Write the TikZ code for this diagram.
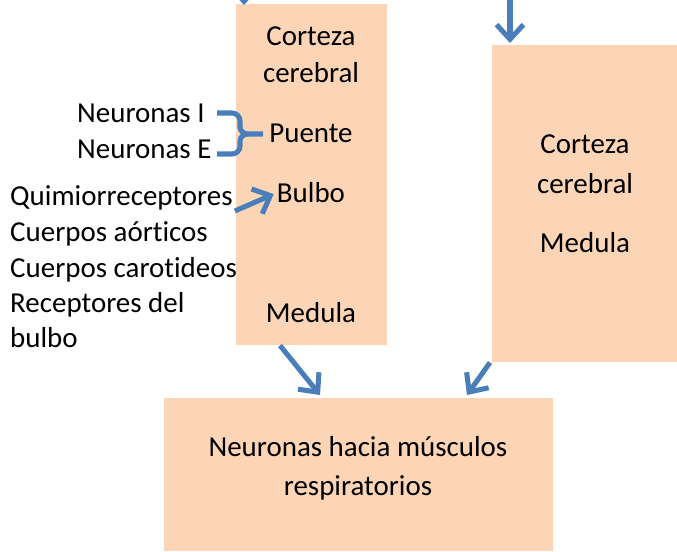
\documentclass[tikz,border=0pt]{standalone}
\usepackage{fontspec}
\setmainfont{Carlito}[Ligatures=NoCommon]
\usetikzlibrary{arrows.meta, calc}
\definecolor{boxpeach}{RGB}{251, 213, 181}
\definecolor{arrowblue}{RGB}{74, 126, 187}

\begin{document}
\begin{tikzpicture}[x=0.03cm, y=-0.03cm,
        every node/.style={font=\fontsize{24.7}{30}\selectfont, inner sep=0pt},
        area/.style={rectangle, fill=boxpeach, anchor=north west},
        txt/.style={anchor=base},
        lbl/.style={anchor=base west},
        arrow/.style={-{Straight Barb[length=12.5pt, width=23pt]}, line width=4.3pt, arrowblue}
    ]
        \useasboundingbox (0,0) rectangle (677,551);

        % boxes
        \node[area, minimum width=4.53cm, minimum height=10.23cm] (lbox) at (236,4) {};
        \node[area, minimum width=5.55cm, minimum height=9.51cm] (rbox) at (492,45) {};
        \node[area, minimum width=11.67cm, minimum height=4.59cm] (mbox) at (164,398) {};

        % left box
        \node[txt] (lcort) at (311,45) {Corteza};
        \node[txt] (lcere) at (311,82) {cerebral};
        \node[txt] (puente) at (311,142) {Puente};
        \node[txt] (bulbo) at (311,202) {Bulbo};
        \node[txt] (lmed) at (311,322) {Medula};

        % right box
        \node[txt] (rcort) at (585,153) {Corteza};
        \node[txt] (rcere) at (585,193) {cerebral};
        \node[txt] (rmed) at (585,252) {Medula};

        % bottom box
        \node[txt] (mus1) at (358,456) {Neuronas hacia músculos};
        \node[txt] (mus2) at (358,495) {respiratorios};

        % side labels
        \node[lbl] (neuI) at (77,122) {Neuronas I};
        \node[lbl] (neuE) at (77,158) {Neuronas E};
        \node[lbl] (q1) at (10,205) {Quimiorreceptores};
        \node[lbl] (q2) at (10,241) {Cuerpos aórticos};
        \node[lbl] (q3) at (10,277) {Cuerpos carotideos};
        \node[lbl] (q4) at (10,312) {Receptores del};
        \node[lbl] (q5) at (10,347) {bulbo};

        % brace
        \draw[line width=4.3pt, arrowblue] (217,113) -- (232,113) to[out=0, in=90] (240,121) -- (240,127)
            to[out=-90, in=180] (248,134) -- (263,134);
        \draw[line width=4.3pt, arrowblue] (248,134) to[out=180, in=90] (240,141) -- (240,146)
            to[out=-90, in=0] (232,154) -- (217,154);

        % arrows
        \coordinate (inL) at (244,-40);
        \coordinate (inR) at (510,-10);
        \draw[arrow] (inL) -- ($(lbox.north west)+(8,1)$);
        \draw[arrow] (inR) -- ($(rbox.north west)+(18,-2)$);
        \draw[arrow] ($(q1.base east)+(2,6)$) -- ($(bulbo.west)+(-3,2)$);
        \draw[arrow] ($(lbox.south west)+(44,0)$) -- ($(mbox.north west)+(156,-3)$);
        \draw[arrow] ($(rbox.south west)+(-2,0)$) -- ($(mbox.north west)+(303,-3)$);
    \end{tikzpicture}
\end{document}
